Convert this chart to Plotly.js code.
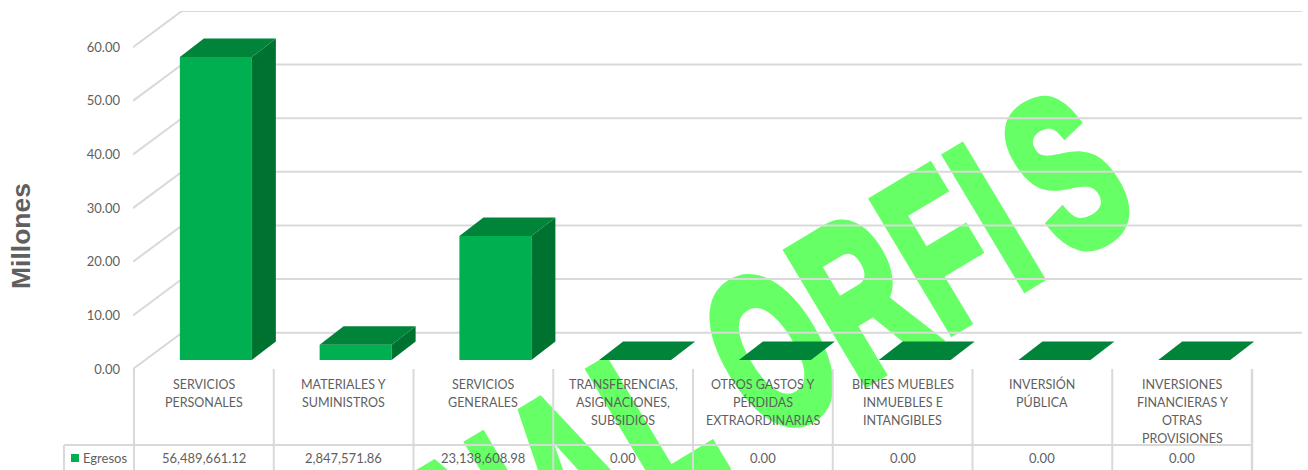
<!DOCTYPE html>
<html><head><meta charset="utf-8">
<script src="https://cdn.plot.ly/plotly-3.0.1.min.js"></script>
<style>
html,body{margin:0;padding:0;width:1308px;height:470px;overflow:hidden;background:#fff}
#wm{position:absolute;left:0;top:0;white-space:pre;font-family:"Liberation Sans";font-weight:700;color:#66FF66;font-size:219px;line-height:1;letter-spacing:8px;transform-origin:0 0;z-index:0;-webkit-text-stroke:11px #66FF66;transform:translate(292px,511px) rotate(-31deg) scaleX(0.6)}
#chart{position:absolute;left:0;top:0;z-index:1}
</style></head><body>
<div id="wm"><span style="letter-spacing:0">FIN</span><span style="letter-spacing:20px">A</span>L ORF<span style="letter-spacing:38px">I</span>S</div>
<div id="chart"></div>
<script>
const categoryLines = [
  ["SERVICIOS","PERSONALES"],
  ["MATERIALES Y","SUMINISTROS"],
  ["SERVICIOS","GENERALES"],
  ["TRANSFERENCIAS,","ASIGNACIONES,","SUBSIDIOS"],
  ["OTROS GASTOS Y","PÉRDIDAS","EXTRAORDINARIAS"],
  ["BIENES MUEBLES","INMUEBLES E","INTANGIBLES"],
  ["INVERSIÓN","PÚBLICA"],
  ["INVERSIONES","FINANCIERAS Y","OTRAS","PROVISIONES"]
];
const egresos = [56489661.12, 2847571.86, 23138608.98, 0, 0, 0, 0, 0];
const yTicks = [0, 10, 20, 30, 40, 50, 60];
const seriesName = "Egresos";
const axisTitle = "Millones";

// Projection constants for the pseudo-3D look (data units)
const pxPerCat = 139.75, pxPerUnit = 5.364;
const wallDX = 49 / pxPerCat, wallDY = 36.3 / pxPerUnit;
const barDX = 24 / pxPerCat, barDY = 18.5 / pxPerUnit;
const barBase = 9 / pxPerUnit, barShift = 12 / pxPerCat, barW = 72 / pxPerCat;
const xMin = -0.507, xMax = 7.857, yMax = 66.75;
const GRID = "#D9D9D9", TXT = "#5F5F5F", FRONT = "#00B050", SIDE = "#00722F", TOP = "#00843A";
const FONT = "Lato, 'Open Sans', sans-serif";

const idx = categoryLines.map((_, i) => i);
const vals = egresos.map(v => v / 1e6);
const yp = px => (369 - px) / 358;
const xp = px => (px - 133) / 1169;
const fmt = v => v.toLocaleString("en-US", {minimumFractionDigits: 2, maximumFractionDigits: 2});

const traces = [{
  type: "bar", name: seriesName, x: idx.map(i => i + barShift), y: vals,
  base: vals.map(() => barBase), width: barW,
  marker: {color: FRONT, line: {width: 0}}, customdata: categoryLines.map(l => l.join(" ")),
  hovertemplate: "%{customdata}: %{y:.2f}<extra></extra>", showlegend: false
}];
function poly(xs, ys, color) {
  traces.push({type: "scatter", mode: "lines", x: xs, y: ys, fill: "toself", fillcolor: color,
    line: {width: 0, color: color}, hoverinfo: "skip", showlegend: false, cliponaxis: false});
}
vals.forEach((v, i) => {
  const l = i + barShift - barW / 2, r = l + barW, b = barBase, t = barBase + v;
  if (v > 0) poly([r, r + barDX, r + barDX, r, r], [b, b + barDY, t + barDY, t, b], SIDE);
  poly([l, l + barDX, r + barDX, r, l], [t, t + barDY, t + barDY, t, t], TOP);
});

const shapes = [];
yTicks.forEach(t => {
  const xl = xMin, xb = xMin + wallDX, yb = t + wallDY;
  shapes.push({type: "path", layer: "below", xref: "x", yref: "y",
    path: `M${xl},${t} L${xb},${yb} L${xMax},${yb}`, line: {color: GRID, width: 2}});
});
function tline(x0, y0, x1, y1, w) {
  shapes.push({type: "line", layer: "below", xref: "paper", yref: "paper", x0: xp(x0), x1: xp(x1), y0: yp(y0), y1: yp(y1),
    line: {color: GRID, width: w || 2}});
}
const colX = i => 134 + pxPerCat * i;
for (let i = 0; i <= idx.length; i++) tline(colX(i), 369, colX(i), 470, i === idx.length ? 2.5 : 2);
tline(64, 445, colX(idx.length), 445);
tline(64, 445, 64, 470);
// legend key in table
shapes.push({type: "rect", layer: "above", xref: "paper", yref: "paper",
  x0: xp(71), x1: xp(79), y0: yp(462), y1: yp(454),
  fillcolor: FRONT, line: {width: 0}});

const annotations = [];
function ann(text, px, py, size, extra) {
  annotations.push(Object.assign({text, x: xp(px), xref: "paper", y: yp(py), yref: "paper", showarrow: false,
    xanchor: "center", yanchor: "middle", font: {family: FONT, size, color: TXT}}, extra || {}));
}
categoryLines.forEach((lines, i) => {
  const c = colX(i) + pxPerCat / 2;
  lines.forEach((ln, k) => ann(ln, c, 384 + 18 * k, 12.5));
  ann(fmt(egresos[i]), c, 458, 13);
});
ann(seriesName, 81, 458, 13, {xanchor: "left"});
annotations.push({text: axisTitle, x: xp(21), xref: "paper", y: yp(236), yref: "paper", showarrow: false,
  textangle: -90, xanchor: "center", yanchor: "middle",
  font: {family: "Liberation Sans", size: 26.5, color: TXT, weight: 700}});

const layout = {
  width: 1308, height: 470, margin: {l: 133, r: 6, t: 11, b: 101},
  paper_bgcolor: "rgba(0,0,0,0)", plot_bgcolor: "rgba(0,0,0,0)", showlegend: false,
  xaxis: {range: [xMin, xMax], showgrid: false, zeroline: false, showticklabels: false, ticks: "", showline: false},
  yaxis: {range: [0, yMax], tickvals: yTicks, tickformat: ".2f", showgrid: false, zeroline: false, showline: false,
    ticks: "", ticklabelstandoff: 12, tickfont: {family: FONT, size: 13, color: TXT}},
  shapes, annotations
};
Plotly.newPlot("chart", traces, layout, {displayModeBar: false, staticPlot: true});
</script></body></html>
